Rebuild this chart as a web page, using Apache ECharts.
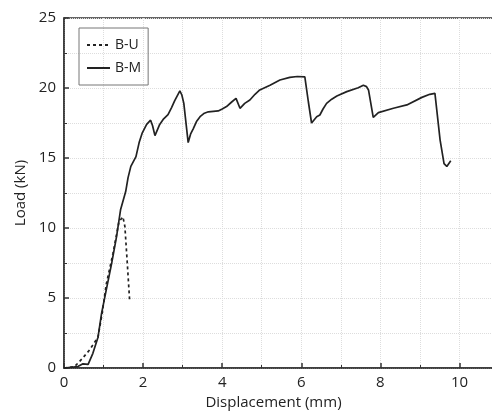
<!DOCTYPE html>
<html>
<head>
<meta charset="utf-8">
<script src="https://cdn.jsdelivr.net/npm/echarts@6/dist/echarts.min.js"></script>
<style>
  html, body { margin: 0; padding: 0; background: #fff; }
  #chart { width: 492px; height: 414px; }
</style>
</head>
<body>
<div id="chart"></div>
<script>
// 位移 (mm) / 荷载 (kN)
const buDisp = [0, 0.27, 0.47, 0.65, 0.86, 0.97, 1.07, 1.24, 1.39, 1.49, 1.54, 1.60, 1.66];
const buLoad = [0, 0.1, 0.7, 1.3, 2.2, 4.0, 6.0, 8.2, 10.45, 10.8, 10.1, 7.5, 4.8];

const bmDisp = [0, 0.35, 0.48, 0.61, 0.73, 0.86, 0.95, 1.07, 1.2, 1.33, 1.43, 1.56, 1.62, 1.69, 1.82, 1.9, 1.98, 2.09, 2.19, 2.24, 2.30, 2.42, 2.52, 2.63, 2.72, 2.80, 2.93, 2.98, 3.03, 3.14, 3.2, 3.27, 3.35, 3.44, 3.55, 3.65, 3.9, 4.0, 4.11, 4.24, 4.35, 4.38, 4.45, 4.57, 4.70, 4.83, 4.95, 5.21, 5.46, 5.71, 5.9, 6.09, 6.18, 6.26, 6.39, 6.47, 6.55, 6.64, 6.77, 6.9, 7.15, 7.44, 7.57, 7.65, 7.7, 7.82, 7.95, 8.33, 8.67, 9.05, 9.25, 9.38, 9.42, 9.51, 9.61, 9.68, 9.78];
const bmLoad = [0, 0.1, 0.3, 0.26, 1.05, 2.2, 3.9, 5.6, 7.4, 9.4, 11.3, 12.6, 13.6, 14.4, 15.1, 16.1, 16.8, 17.4, 17.7, 17.3, 16.6, 17.4, 17.8, 18.1, 18.6, 19.1, 19.8, 19.5, 18.9, 16.1, 16.7, 17.1, 17.6, 17.95, 18.2, 18.3, 18.36, 18.5, 18.67, 19.0, 19.26, 19.3, 18.55, 18.9, 19.14, 19.55, 19.86, 20.2, 20.57, 20.76, 20.82, 20.8, 19.0, 17.5, 17.95, 18.07, 18.5, 18.9, 19.2, 19.43, 19.74, 20.02, 20.2, 20.1, 19.86, 17.9, 18.24, 18.55, 18.79, 19.33, 19.55, 19.62, 19.5, 16.3, 14.6, 14.4, 14.8];

const xTicks = [0, 11];
const yTicks = [0, 25];

const font = "Open Sans";
const ink = "#222";

function pairs(xs, ys) {
  return xs.map((x, i) => [x, ys[i]]);
}

const chart = echarts.init(document.getElementById("chart"));

const option = {
  backgroundColor: "#fff",
  animation: false,
  // 绘图区 (右侧被裁掉)
  grid: {
    left: 64,
    top: 18,
    bottom: 46,
    right: -7,
    containLabel: false,
    outerBoundsMode: "none",
    show: true,
    borderColor: "#333",
    borderWidth: 1.5,
  },
  // 图例
  legend: {
    orient: "vertical",
    left: 79,
    top: 28,
    padding: [10, 7, 10, 7],
    itemGap: 9,
    itemWidth: 23,
    itemHeight: 14,
    borderColor: "#777",
    borderWidth: 1,
    itemStyle: { opacity: 0 },
    textStyle: { fontFamily: font, fontSize: 14, color: ink },
    data: ["B-U", "B-M"],
  },
  // X轴
  xAxis: {
    type: "value",
    min: xTicks[0],
    max: xTicks[1],
    interval: 2,
    name: "Displacement (mm)",
    nameLocation: "middle",
    nameGap: 26,
    nameTextStyle: { fontFamily: font, fontSize: 15, color: ink, padding: [0, 16, 0, 0] },
    axisLine: { lineStyle: { color: "#333", width: 1.5 } },
    axisTick: { inside: true, length: 5, lineStyle: { color: "#333", width: 1.5 } },
    minorTick: { show: true, splitNumber: 2, length: 3, lineStyle: { color: "#333" } },
    axisLabel: { fontFamily: font, fontSize: 15, color: ink, margin: 7, showMaxLabel: false },
    splitLine: { lineStyle: { color: "#ddd", type: "dotted" } },
    minorSplitLine: { show: true, lineStyle: { color: "#ddd", type: "dotted" } },
  },
  // Y轴
  yAxis: {
    type: "value",
    min: yTicks[0],
    max: yTicks[1],
    interval: 5,
    name: "Load (kN)",
    nameLocation: "middle",
    nameGap: 34,
    nameTextStyle: { fontFamily: font, fontSize: 15, color: ink },
    axisLine: { show: true, lineStyle: { color: "#333", width: 1.5 } },
    axisTick: { show: true, inside: true, length: 5, lineStyle: { color: "#333", width: 1.5 } },
    minorTick: { show: true, splitNumber: 2, length: 3, lineStyle: { color: "#333" } },
    axisLabel: { fontFamily: font, fontSize: 15, color: ink, margin: 8 },
    splitLine: { lineStyle: { color: "#ddd", type: "dotted" } },
    minorSplitLine: { show: true, lineStyle: { color: "#ddd", type: "dotted" } },
  },
  series: [
    {
      name: "B-U",
      type: "line",
      symbol: "none",
      lineStyle: { color: ink, width: 1.7, type: [3, 3] },
      itemStyle: { color: ink },
      data: pairs(buDisp, buLoad),
    },
    {
      name: "B-M",
      type: "line",
      symbol: "none",
      lineStyle: { color: ink, width: 1.7 },
      itemStyle: { color: ink },
      data: pairs(bmDisp, bmLoad),
    },
  ],
};

chart.setOption(option);
</script>
</body>
</html>
